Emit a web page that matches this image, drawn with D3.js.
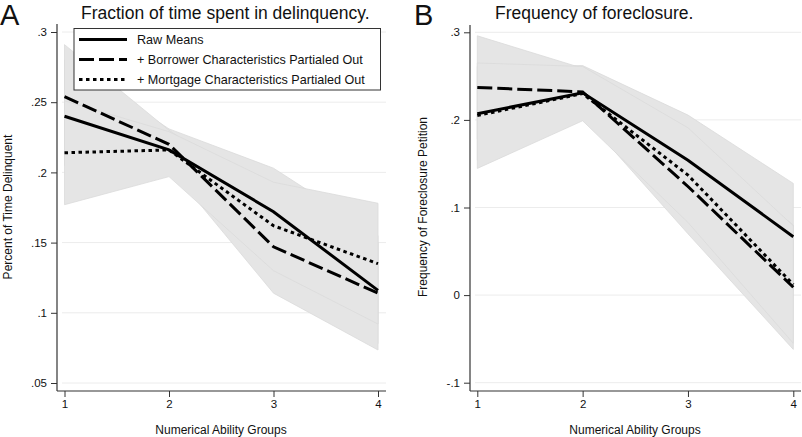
<!DOCTYPE html>
<html><head><meta charset="utf-8">
<script src="https://cdn.jsdelivr.net/npm/d3@7"></script>
<style>
body{margin:0;background:#fff;}
svg text{font-family:"Liberation Sans",Arial,Helvetica,sans-serif;fill:#111;}
</style></head>
<body><svg id="c" width="802" height="437"></svg>
<script>
const groups = [1, 2, 3, 4];
const seriesNames = ["Raw Means", "+ Borrower Characteristics Partialed Out", "+ Mortgage Characteristics Partialed Out"];

// Panel A: fraction of time delinquent
const rawA = [0.240, 0.216, 0.172, 0.116];
const borrowerA = [0.254, 0.220, 0.147, 0.114];
const mortgageA = [0.214, 0.216, 0.162, 0.135];
const rawA_lo = [0.205, 0.200, 0.140, 0.078], rawA_hi = [0.280, 0.231, 0.203, 0.155];
const borrowerA_lo = [0.215, 0.204, 0.114, 0.0735], borrowerA_hi = [0.291, 0.230, 0.180, 0.150];
const mortgageA_lo = [0.177, 0.197, 0.130, 0.092], mortgageA_hi = [0.251, 0.229, 0.193, 0.178];
const ticksA = [0.05, 0.1, 0.15, 0.2, 0.25, 0.3];
const tickLabelsA = [".05", ".1", ".15", ".2", ".25", ".3"];

// Panel B: frequency of foreclosure
const rawB = [0.207, 0.231, 0.154, 0.0666];
const borrowerB = [0.237, 0.232, 0.124, 0.009];
const mortgageB = [0.205, 0.230, 0.137, 0.012];
const rawB_lo = [0.154, 0.200, 0.100, 0.006], rawB_hi = [0.261, 0.262, 0.2055, 0.1275];
const borrowerB_lo = [0.178, 0.205, 0.070, -0.062], borrowerB_hi = [0.296, 0.259, 0.178, 0.080];
const mortgageB_lo = [0.1446, 0.199, 0.083, -0.055], mortgageB_hi = [0.265, 0.261, 0.191, 0.079];
const ticksB = [-0.1, 0, 0.1, 0.2, 0.3];
const tickLabelsB = ["-.1", "0", ".1", ".2", ".3"];

const dashes = [null, "15,5", "3.5,3.5"];
const svg = d3.select("#c");

function panel(o) {
  const g = svg.append("g");
  const x = d3.scaleLinear().domain([1, 4]).range([o.x1, o.x4]);
  const y = d3.scaleLinear().domain(o.ydom).range(o.yrange);
  // grid
  g.selectAll(".grid").data(o.ticks).enter().append("line")
    .attr("x1", o.axX + 5).attr("x2", o.right)
    .attr("y1", d => y(d)).attr("y2", d => y(d))
    .attr("stroke", "#ececec").attr("stroke-width", 1);
  // bands
  const area = d3.area().x((d, i) => x(groups[i])).y0(d => y(d[0])).y1(d => y(d[1]));
  o.bands.forEach(b => {
    const pts = b[0].map((v, i) => [v, b[1][i]]);
    g.append("path").attr("d", area(pts)).attr("fill", "#e5e5e5")
      .attr("stroke", "#dadada").attr("stroke-width", 0.8);
  });
  // lines
  const line = d3.line().x((d, i) => x(groups[i])).y(d => y(d));
  o.series.forEach((s, k) => {
    g.append("path").attr("d", line(s)).attr("fill", "none")
      .attr("stroke", "#000").attr("stroke-width", 3)
      .attr("stroke-dasharray", dashes[k]);
  });
  // y axis
  const ya = d3.axisLeft(y).tickValues(o.ticks).tickSize(6).tickSizeOuter(0)
    .tickFormat((d, i) => o.tickLabels[i]);
  const yg = g.append("g").attr("transform", `translate(${o.axX},0)`).call(ya);
  yg.select(".domain").remove();
  yg.selectAll("text").attr("font-size", 11.5).attr("dx", "-1");
  yg.selectAll("line").attr("stroke", "#333");
  g.append("line").attr("x1", o.axX).attr("x2", o.axX).attr("y1", o.axTop).attr("y2", o.axY)
    .attr("stroke", "#333").attr("stroke-width", 1.2);
  // x axis
  const xa = d3.axisBottom(x).tickValues(groups).tickSize(6).tickSizeOuter(0).tickFormat(d3.format("d"));
  const xg = g.append("g").attr("transform", `translate(0,${o.axY})`).call(xa);
  xg.select(".domain").remove();
  xg.selectAll("text").attr("font-size", 11.5).attr("dy", "0.71em");
  xg.selectAll("line").attr("stroke", "#333");
  g.append("line").attr("x1", o.axX).attr("x2", o.right).attr("y1", o.axY).attr("y2", o.axY)
    .attr("stroke", "#333").attr("stroke-width", 1.2);
  // labels
  g.append("text").attr("x", o.xlabX).attr("y", 434).attr("text-anchor", "middle")
    .attr("font-size", 12).text("Numerical Ability Groups");
  g.append("text").attr("transform", `translate(${o.ylabX},${o.ylabY}) rotate(-90)`)
    .attr("text-anchor", "middle").attr("font-size", 12).text(o.ylab);
  g.append("text").attr("x", o.titleX).attr("y", 19).attr("font-size", 17.5).text(o.title);
  g.append("text").attr("x", o.letterX).attr("y", 25).attr("font-size", 29).text(o.letter);
  return {x, y};
}

panel({
  x1: 64.5, x4: 378, axX: 57, right: 386, axY: 391, axTop: 24,
  ydom: [0.05, 0.3], yrange: [383, 32], ticks: ticksA, tickLabels: tickLabelsA,
  bands: [[rawA_lo, rawA_hi], [borrowerA_lo, borrowerA_hi], [mortgageA_lo, mortgageA_hi]],
  series: [rawA, borrowerA, mortgageA],
  xlabX: 221, ylabX: 12, ylabY: 207, ylab: "Percent of Time Delinquent",
  titleX: 81, title: "Fraction of time spent in delinquency.", letterX: 0, letter: "A"
});
panel({
  x1: 477.3, x4: 793.3, axX: 470, right: 801, axY: 391, axTop: 25,
  ydom: [-0.1, 0.3], yrange: [382.7, 32.3], ticks: ticksB, tickLabels: tickLabelsB,
  bands: [[rawB_lo, rawB_hi], [borrowerB_lo, borrowerB_hi], [mortgageB_lo, mortgageB_hi]],
  series: [rawB, borrowerB, mortgageB],
  xlabX: 635, ylabX: 427, ylabY: 207, ylab: "Frequency of Foreclosure Petition",
  titleX: 495, title: "Frequency of foreclosure.", letterX: 414, letter: "B"
});

// legend (panel A)
const lg = svg.append("g");
lg.append("rect").attr("x", 74).attr("y", 28.5).attr("width", 306.5).attr("height", 61.5)
  .attr("fill", "#fff").attr("stroke", "#333").attr("stroke-width", 1);
seriesNames.forEach((n, k) => {
  const yy = 39.5 + k * 20;
  lg.append("line").attr("x1", 79).attr("x2", 127).attr("y1", yy).attr("y2", yy)
    .attr("stroke", "#000").attr("stroke-width", 3).attr("stroke-dasharray", dashes[k]);
  lg.append("text").attr("x", 137).attr("y", yy + 4.5).attr("font-size", 12.6).text(n);
});
</script></body></html>
